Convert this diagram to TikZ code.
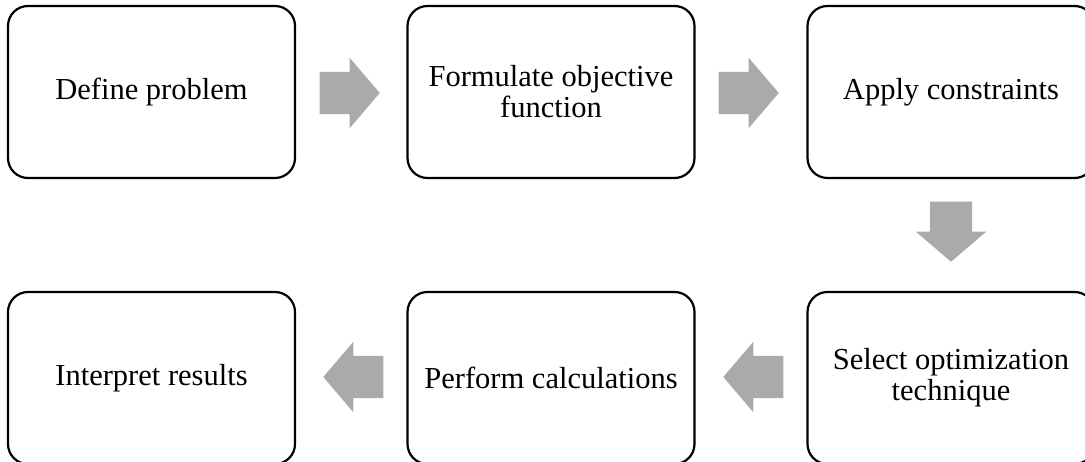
\documentclass[tikz,border=0pt]{standalone}
\usepackage{fontspec}
\setmainfont{Liberation Serif}
\usetikzlibrary{shapes.arrows,positioning}
\definecolor{arrowgray}{RGB}{170,170,170}
\tikzset{
  procbox/.style={draw=black,line width=2.2pt,rounded corners=20pt,fill=white,
    minimum width=287pt,minimum height=172pt,align=center,
    font=\fontsize{30.5}{31}\selectfont},
  blockarrow/.style={single arrow,fill=arrowgray,draw=none,anchor=tip,
    inner xsep=0pt,inner ysep=21pt,minimum height=60pt,
    single arrow head extend=14pt,single arrow tip angle=99},
}
\begin{document}
\begin{tikzpicture}[x=1pt,y=-1pt]
\useasboundingbox (0,0) rectangle (1085,462);
\clip (0,0) rectangle (1085,462);

% top row, left to right
\node[procbox] (define) at (151.5,92) {Define problem};
\node[procbox] (formulate) at (551,92) {Formulate objective\\function};
\node[procbox] (constraints) at (951,92) {Apply constraints};

% bottom row, right to left
\node[procbox] (select) at (951,378) {Select optimization\\technique};
\node[procbox] (perform) at (551,378) {Perform calculations};
\node[procbox] (interpret) at (151.5,378) {Interpret results};

% block arrows between the steps (placed by their tips)
\node[blockarrow] (a1) at (380,93) {};
\node[blockarrow] (a2) at (779,93) {};
\node[blockarrow,rotate=-90] (a3) at (951,262) {};
\node[blockarrow,rotate=180] (a4) at (723,377) {};
\node[blockarrow,rotate=180] (a5) at (323,377) {};

\end{tikzpicture}
\end{document}
